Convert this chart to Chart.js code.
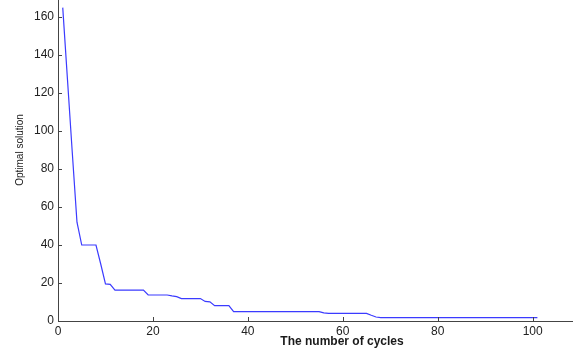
<!DOCTYPE html>
<html>
<head>
<meta charset="utf-8">
<script src="https://cdn.jsdelivr.net/npm/chart.js@4"></script>
<style>
html,body{margin:0;padding:0;background:#fff;}
#wrap{width:573px;height:349px;position:relative;}
</style>
</head>
<body>
<div id="wrap"><canvas id="c" width="573" height="349"></canvas></div>
<script>
const cycles = Array.from({length:101},(_,i)=>i+1);
const optimal = [
165,127,89,52,40,40,40,40,30,19.5,
19.3,16.3,16.3,16.3,16.3,16.3,16.3,16.3,13.7,13.7,
13.7,13.7,13.7,13.2,12.8,11.8,11.8,11.8,11.8,11.8,
10.3,10.1,8.1,8.1,8.1,8.1,4.9,4.9,4.9,4.9,
4.9,4.9,4.9,4.9,4.9,4.9,4.9,4.9,4.9,4.9,
4.9,4.9,4.9,4.9,4.9,4.3,4.0,4.0,4.0,4.0,
4.0,4.0,4.0,4.0,4.0,3.0,2.1,1.8,1.8,1.8,
1.8,1.8,1.8,1.8,1.8,1.8,1.8,1.8,1.8,1.8,
1.8,1.8,1.8,1.8,1.8,1.8,1.8,1.8,1.8,1.8,
1.8,1.8,1.8,1.8,1.8,1.8,1.8,1.8,1.8,1.8,
1.8
];
const xTicks = [0,20,40,60,80,100];
const yTicks = [0,20,40,60,80,100,120,140,160];
const xTitle = 'The number of cycles';
const yTitle = 'Optimal solution';

const FONT = '"Liberation Sans", Arial, sans-serif';
const AXIS_COLOR = '#444';

const inTicks = {
  id:'inTicks',
  afterDraw(chart){
    const ctx = chart.ctx, a = chart.chartArea;
    const xs = chart.scales.x, ys = chart.scales.y;
    ctx.save();
    ctx.strokeStyle = AXIS_COLOR; ctx.lineWidth = 1;
    ctx.beginPath();
    xTicks.forEach(v=>{const p=Math.round(xs.getPixelForValue(v))+0.5; ctx.moveTo(p,a.bottom); ctx.lineTo(p,a.bottom-4);});
    yTicks.forEach(v=>{const p=Math.round(ys.getPixelForValue(v))+0.5; ctx.moveTo(a.left,p); ctx.lineTo(a.left+4,p);});
    ctx.stroke();
    ctx.fillStyle = '#1a1a1a';
    ctx.font = 'bold 12px ' + FONT;
    ctx.textAlign='center'; ctx.textBaseline='middle';
    ctx.fillText(xTitle, 342, 342);
    ctx.save();
    ctx.translate(20,150); ctx.rotate(-Math.PI/2);
    ctx.font = '10px ' + FONT;
    ctx.fillText(yTitle, 0, 0);
    ctx.restore();
    ctx.restore();
  }
};

new Chart(document.getElementById('c'), {
  type:'line',
  data:{ datasets:[{
    data: cycles.map((x,i)=>({x:x, y:optimal[i]})),
    borderColor:'#3b3bff', borderWidth:1.2, pointRadius:0, tension:0, fill:false
  }]},
  options:{
    responsive:false, animation:false, devicePixelRatio:1,
    layout:{padding:{top:0,right:0,left:0,bottom:0}},
    plugins:{legend:{display:false}, tooltip:{enabled:false}},
    scales:{
      x:{
        type:'linear', min:0, max:108.5,
        afterBuildTicks(s){ s.ticks = xTicks.map(v=>({value:v})); },
        afterFit(s){ s.height = 28; s.paddingLeft = 0; s.paddingRight = 0; },
        grid:{display:true, drawOnChartArea:false, drawTicks:false},
        border:{display:true, color:AXIS_COLOR, width:1},
        ticks:{padding:3, color:'#222', font:{family:FONT, size:12}, maxRotation:0, autoSkip:false}
      },
      y:{
        type:'linear', min:0, max:169,
        afterBuildTicks(s){ s.ticks = yTicks.map(v=>({value:v})); },
        afterFit(s){ s.width = 58; s.paddingTop = 0; s.paddingBottom = 0; },
        grid:{display:true, drawOnChartArea:false, drawTicks:false},
        border:{display:true, color:AXIS_COLOR, width:1},
        ticks:{padding:4, color:'#222', font:{family:FONT, size:12}, autoSkip:false}
      }
    }
  },
  plugins:[inTicks]
});
</script>
</body>
</html>
